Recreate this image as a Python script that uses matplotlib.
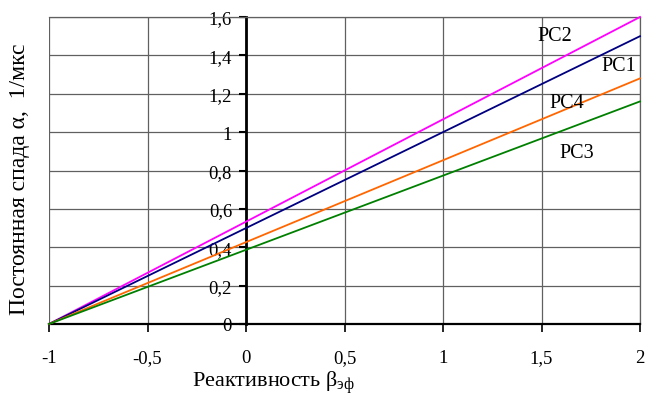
import matplotlib
matplotlib.use("Agg")
import matplotlib.pyplot as plt

plt.rcParams['font.family'] = ['Liberation Serif', 'DejaVu Serif']
plt.rcParams['mathtext.fontset'] = 'custom'
plt.rcParams['mathtext.rm'] = 'Liberation Serif'
plt.rcParams['mathtext.it'] = 'Liberation Serif'

x_vals = [-1, 2]
series_names = ["PC2", "PC1", "PC4", "PC3"]
pc2 = [0, 1.6]
pc1 = [0, 1.5]
pc4 = [0, 1.28]
pc3 = [0, 1.16]
colors = ["#FF00FF", "#000080", "#FF6600", "#008000"]
label_pos = [(1.57, 1.505), (1.89, 1.345), (1.63, 1.156), (1.68, 0.896)]
x_ticks = [-1, -0.5, 0, 0.5, 1, 1.5, 2]
x_ticklabels = ["-1", "-0,5", "0", "0,5", "1", "1,5", "2"]
y_ticks = [0, 0.2, 0.4, 0.6, 0.8, 1.0, 1.2, 1.4, 1.6]
y_ticklabels = ["0", "0,2", "0,4", "0,6", "0,8", "1", "1,2", "1,4", "1,6"]

fig = plt.figure(figsize=(6.46, 4.06), dpi=100)
ax = fig.add_axes([49/646, 1-325/406, (640-49)/646, (325-18)/406])

for ys, c in zip([pc2, pc1, pc4, pc3], colors):
    ax.plot(x_vals, ys, color=c, lw=1.3, zorder=3, clip_on=False)

for name, (lx, ly) in zip(series_names, label_pos):
    ax.text(lx, ly, name, fontsize=14.5, ha='center', va='center', zorder=4)

ax.set_xlim(-1, 2)
ax.set_ylim(0, 1.6)
ax.set_xticks(x_ticks)
ax.set_xticklabels(x_ticklabels)
ax.set_yticks(y_ticks)
ax.set_yticklabels(y_ticklabels)
ax.grid(True, color='#606060', lw=0.9, zorder=1)
ax.set_axisbelow(True)

ax.spines['left'].set_position(('data', 0))
ax.spines['left'].set_color('black')
ax.spines['left'].set_linewidth(2.0)
ax.spines['left'].set_zorder(2.5)
ax.spines['bottom'].set_color('black')
ax.spines['bottom'].set_linewidth(1.6)
for s in ['top', 'right']:
    ax.spines[s].set_color('#606060')
    ax.spines[s].set_linewidth(0.9)

ax.tick_params(axis='x', direction='out', length=6, width=1.2, pad=12, labelsize=13.5)
ax.tick_params(axis='y', direction='out', length=5, width=1.5, pad=5, labelsize=13.5)

fig.text(273/646, 1-383/406, "Реактивность $β_{\\mathrm{эф}}$", fontsize=16,
         ha='center', va='center')
fig.text(20/646, 1-179/406, "Постоянная спада α,  1/мкс", fontsize=17,
         ha='center', va='center', rotation=90)

fig.savefig("out.png", dpi=100)
